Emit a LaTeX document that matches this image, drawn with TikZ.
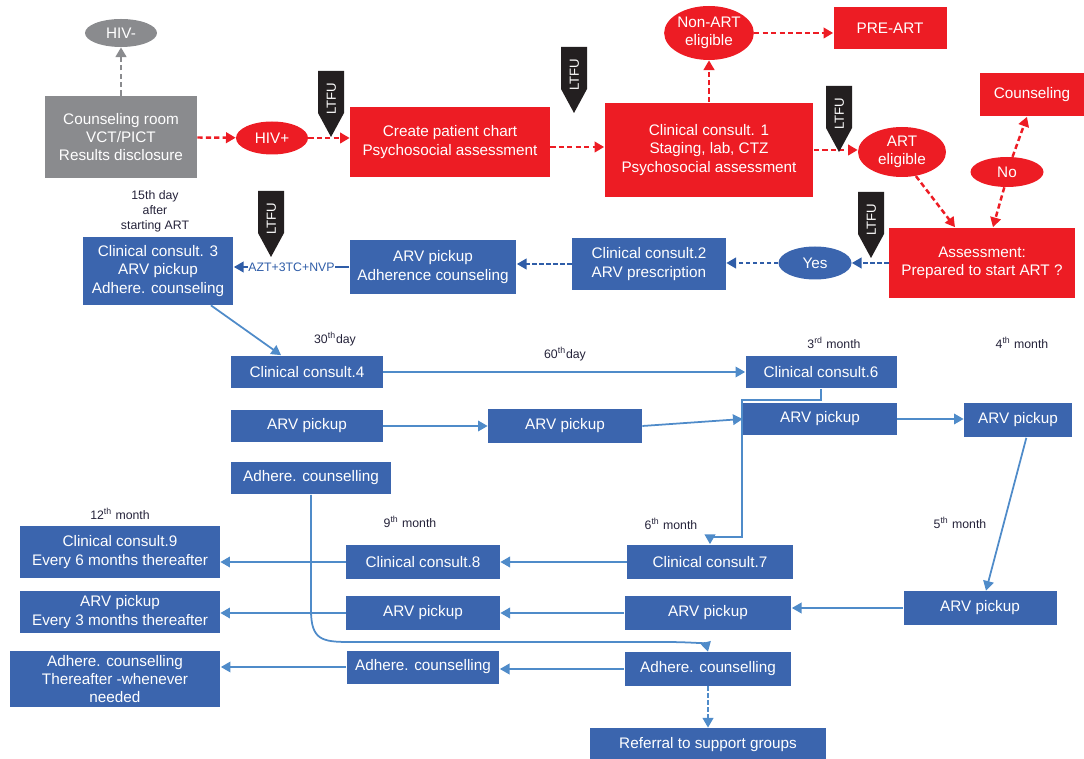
\documentclass[tikz,border=0pt]{standalone}
\usepackage{fontspec}
\setmainfont{Liberation Sans}
\usetikzlibrary{arrows.meta,shapes.geometric}

\definecolor{artred}{HTML}{ED1C24}
\definecolor{roomgray}{HTML}{8A8B8E}
\definecolor{boxblue}{HTML}{3B65AE}
\definecolor{lineblue}{HTML}{4F8BC9}
\definecolor{dashblue}{HTML}{2F5DA8}
\definecolor{flagblack}{HTML}{231F20}
\definecolor{labeltext}{HTML}{25233A}

\tikzset{
  card/.style={rectangle, text=white, align=center, inner sep=2pt, font=\fontsize{8.7}{10.4}\selectfont},
  redbox/.style={card, fill=artred},
  graybox/.style={card, fill=roomgray},
  bluebox/.style={card, fill=boxblue},
  oval/.style={ellipse, text=white, align=center, inner sep=0pt, font=\fontsize{8.7}{10.4}\selectfont},
  redell/.style={oval, fill=artred},
  grayell/.style={oval, fill=roomgray},
  blueell/.style={oval, fill=boxblue},
  timing/.style={font=\fontsize{7}{8.5}\selectfont, text=labeltext, align=center, inner sep=0pt},
  tip/.style={-{Triangle[length=5.5pt,width=6pt]}},
  redarrow/.style={tip, draw=artred, line width=1.4pt, dash pattern=on 3pt off 1.8pt},
  grayarrow/.style={tip, draw=roomgray, line width=1.4pt, dash pattern=on 3pt off 1.8pt},
  bluedash/.style={tip, draw=dashblue, line width=1.2pt, dash pattern=on 2.5pt off 1.5pt},
  lightdash/.style={tip, draw=lineblue, line width=1.1pt, dash pattern=on 2.5pt off 1.5pt},
  drugline/.style={tip, draw=dashblue, line width=1pt},
  bluearrow/.style={tip, draw=lineblue, line width=1pt}
}

\newcommand{\ltfuflag}[3]{%
  \fill[flagblack] (#2-13,#3-24) -- (#2,#3) -- (#2+13,#3-24) -- (#2+13,#3-66) -- (#2-13,#3-66) -- cycle;
  \node[rotate=90, text=white, font=\fontsize{7.5}{9}\selectfont, inner sep=0pt] (#1) at (#2+0.5,#3-38) {LTFU};}

\begin{document}
\begin{tikzpicture}[x=0.02cm,y=-0.02cm]
\useasboundingbox (0,0) rectangle (1084,759);

\node[grayell, minimum width=1.44cm, minimum height=0.56cm] (neg) at (121,33) {HIV-};
\node[graybox, minimum width=3.04cm, minimum height=1.64cm] (room) at (121,137) {Counseling room\\VCT/PICT\\Results disclosure};
\node[redell, minimum width=1.44cm, minimum height=0.66cm] (pos) at (272,138) {HIV+};
\node[redbox, minimum width=4cm, minimum height=1.4cm] (chart) at (450,142) {Create patient chart\\Psychosocial assessment};
\node[redbox, minimum width=4.18cm, minimum height=1.9cm] (cc1) at (709,150) {Clinical consult. 1\\Staging, lab, CTZ\\Psychosocial assessment};
\node[redell, minimum width=1.76cm, minimum height=1.08cm] (nonart) at (709,33) {Non-ART\\eligible};
\node[redbox, minimum width=2.26cm, minimum height=0.84cm] (preart) at (890,28) {PRE-ART};
\node[redell, minimum width=1.76cm, minimum height=1cm] (elig) at (902,152) {ART\\eligible};
\node[redbox, minimum width=2.08cm, minimum height=0.86cm] (couns) at (1032,95) {Counseling};
\node[redell, minimum width=1.46cm, minimum height=0.6cm] (no) at (1007,172) {No};
\node[redbox, minimum width=3.72cm, minimum height=1.42cm] (assess) at (982,263) {Assessment:\\Prepared to start ART ?};

\node[blueell, minimum width=1.46cm, minimum height=0.66cm] (yes) at (815,263) {Yes};
\node[bluebox, align=left, minimum width=3.08cm, minimum height=1.06cm] (cc2) at (649,264) {Clinical consult.2\\ARV prescription};
\node[bluebox, minimum width=3.34cm, minimum height=1.1cm] (pickup1) at (433,267) {ARV pickup\\Adherence counseling};
\node[bluebox, minimum width=3.02cm, minimum height=1.36cm] (cc3) at (158,271) {Clinical consult. 3\\ARV pickup\\Adhere. counseling};
\node[bluebox, minimum width=3.04cm, minimum height=0.66cm] (cc4) at (307,372) {Clinical consult.4};
\node[bluebox, minimum width=3.02cm, minimum height=0.66cm] (cc6) at (821,372) {Clinical consult.6};
\node[bluebox, minimum width=3.04cm, minimum height=0.66cm] (pickup2) at (307,426) {ARV pickup};
\node[bluebox, minimum width=3.08cm, minimum height=0.68cm] (pickup3) at (565,426) {ARV pickup};
\node[bluebox, minimum width=3.08cm, minimum height=0.66cm] (pickup4) at (820,419) {ARV pickup};
\node[bluebox, minimum width=2.16cm, minimum height=0.7cm] (pickup5) at (1018,420) {ARV pickup};
\node[bluebox, minimum width=3.22cm, minimum height=0.66cm] (adhere1) at (311,478) {Adhere. counselling};
\node[bluebox, minimum width=3.06cm, minimum height=0.68cm] (pickup6) at (980,608) {ARV pickup};
\node[bluebox, minimum width=3.32cm, minimum height=0.7cm] (cc7) at (710,562) {Clinical consult.7};
\node[bluebox, minimum width=3.34cm, minimum height=0.68cm] (pickup7) at (708,613) {ARV pickup};
\node[bluebox, minimum width=3.34cm, minimum height=0.68cm] (adhere2) at (708,669) {Adhere. counselling};
\node[bluebox, minimum width=4.74cm, minimum height=0.68cm] (referral) at (708,745) {Referral to support groups};
\node[bluebox, minimum width=3.08cm, minimum height=0.7cm] (cc8) at (423,562) {Clinical consult.8};
\node[bluebox, minimum width=3.08cm, minimum height=0.68cm] (pickup8) at (423,613) {ARV pickup};
\node[bluebox, minimum width=3.06cm, minimum height=0.66cm] (adhere3) at (423,667) {Adhere. counselling};
\node[bluebox, minimum width=4cm, minimum height=1.06cm] (cc9) at (120,552) {Clinical consult.9\\Every 6 months thereafter};
\node[bluebox, minimum width=4cm, minimum height=0.84cm] (pickup9) at (120,612) {ARV pickup\\Every 3 months thereafter};
\node[bluebox, minimum width=4.22cm, minimum height=1.12cm] (adhere4) at (115,679) {Adhere. counselling\\Thereafter -whenever\\needed};

\node[timing] (day15) at (155,211) {15th day\\after\\starting ART};
\node[timing] (day30) at (335,339) {30\textsuperscript{th}day};
\node[timing] (day60) at (565,354) {60\textsuperscript{th}day};
\node[timing] (month3) at (834,343) {3\textsuperscript{rd} month};
\node[timing] (month4) at (1022,343) {4\textsuperscript{th} month};
\node[timing] (month5) at (960,523) {5\textsuperscript{th} month};
\node[timing] (month6) at (671,524) {6\textsuperscript{th} month};
\node[timing] (month9) at (410,522) {9\textsuperscript{th} month};
\node[timing] (month12) at (120,514) {12\textsuperscript{th} month};

\draw[grayarrow] (room) -- (neg);
\draw[redarrow] (room) -- (pos);
\draw[redarrow] (pos) -- (pos -| chart.west);
\draw[redarrow] ([yshift=-0.1cm]chart.east) -- ([yshift=-0.1cm]chart.east -| cc1.west);
\draw[redarrow] (cc1) -- (nonart);
\draw[redarrow] (nonart) -- (nonart -| preart.west);
\draw[redarrow] (cc1) -- (cc1 -| elig.west);
\draw[redarrow] (elig.-60) -- (assess.127);
\draw[redarrow] (no.-100) -- (assess.73);
\draw[redarrow] (no.70) -- (couns.-103);

\draw[bluedash] (assess) -- (yes);
\draw[bluedash] (yes) -- (yes -| cc2.east);
\draw[bluedash] (cc2) -- (cc2 -| pickup1.east);
\draw[drugline] (pickup1.west) -- node[fill=white, inner sep=0.3pt, text=dashblue, font=\fontsize{7}{8}\selectfont] (drugs) {AZT+3TC+NVP} (pickup1.west -| cc3.east);
\draw[bluearrow] (cc3.-33) -- (cc4.147);
\draw[bluearrow] (cc4) -- (cc6);
\draw[bluearrow] (pickup2) -- (pickup3);
\draw[bluearrow] (pickup3.east) -- (pickup4.west);
\draw[bluearrow] (pickup4) -- (pickup4 -| pickup5.west);
\draw[bluearrow] (pickup5.-65) -- (pickup6.71);
\draw[bluearrow] (pickup6) -- (pickup6 -| pickup7.east);
\draw[bluearrow] (cc6.south) |- (742,400) -- (742,537) -| (cc7.north);
\draw[bluearrow] (cc7) -- (cc8);
\draw[bluearrow] (cc8) -- (cc8 -| cc9.east);
\draw[bluearrow] (pickup7) -- (pickup8);
\draw[bluearrow] (pickup8) -- (pickup8 -| pickup9.east);
\draw[bluearrow] (adhere2) -- (adhere2 -| adhere3.east);
\draw[bluearrow] (adhere3) -- (adhere3 -| adhere4.east);
\draw[bluearrow] (adhere1.south) -- (311,610) .. controls (311,640) and (322,642) .. (350,642) -- (665,642) .. controls (692,642) and (706,644) .. (adhere2.north);
\draw[lightdash] (adhere2) -- (referral);

\ltfuflag{ltfu1}{331}{137}
\ltfuflag{ltfu2}{574}{113}
\ltfuflag{ltfu3}{839}{152}
\ltfuflag{ltfu4}{871}{258}
\ltfuflag{ltfu5}{271}{257}
\end{tikzpicture}
\end{document}
